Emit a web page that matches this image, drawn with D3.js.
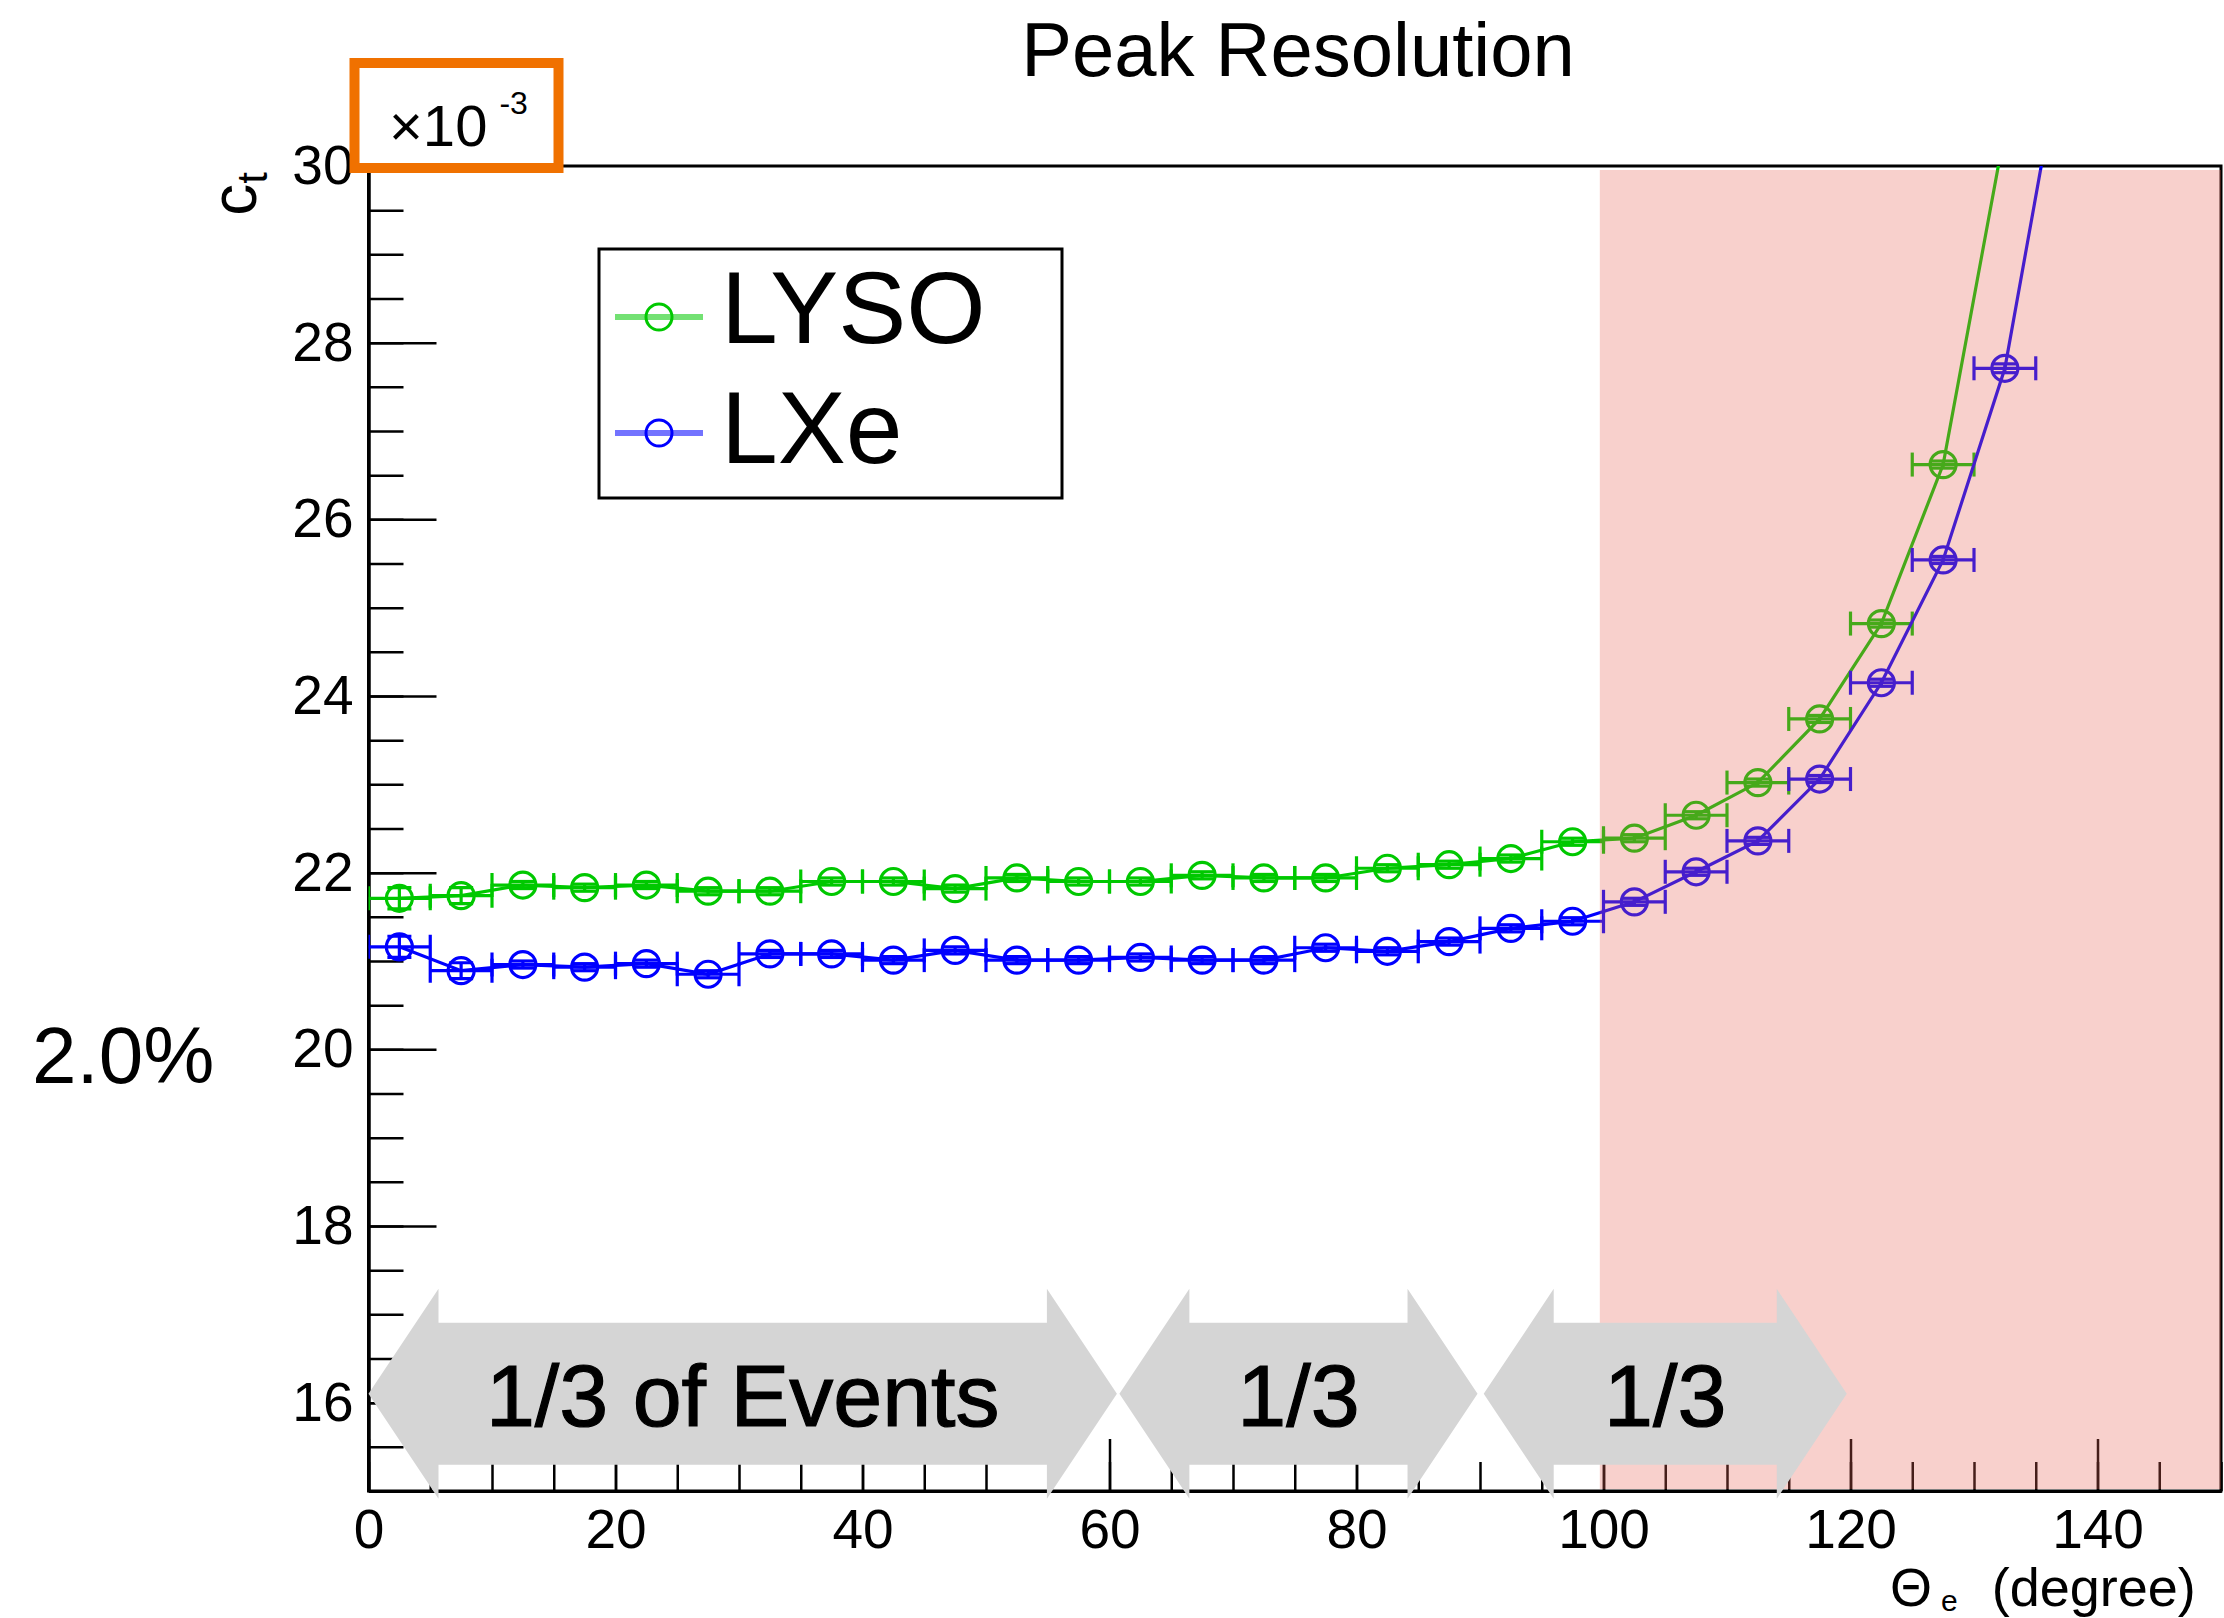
<!DOCTYPE html>
<html>
<head>
<meta charset="utf-8" />
<title>Peak Resolution</title>
<script src="https://cdn.jsdelivr.net/npm/d3@7"></script>
<style>
  body { margin: 0; padding: 0; background: #fff; }
  svg { display: block; font-family: "Liberation Sans", Arial, Helvetica, sans-serif; }
  .axis .domain { stroke: #000; stroke-width: 3; }
  .axis line { stroke: #000; stroke-width: 2.5; }
  .axis text { font-size: 55px; fill: #000; font-family: "Liberation Sans", Arial, sans-serif; }
</style>
</head>
<body>
<div id="chart"></div>
<script>
// theta_e bin centres (degree), each bin is 5 deg wide
var angles = [2.5, 7.5, 12.5, 17.5, 22.5, 27.5, 32.5, 37.5, 42.5, 47.5, 52.5, 57.5, 62.5, 67.5,
              72.5, 77.5, 82.5, 87.5, 92.5, 97.5, 102.5, 107.5, 112.5, 117.5, 122.5, 127.5, 132.5, 137.5];
var binHalf = 2.5;

// c_t peak resolution, units of 10^-3
var lyso    = [21.71, 21.74, 21.86, 21.83, 21.86, 21.79, 21.79, 21.90, 21.90, 21.82, 21.94, 21.90, 21.90, 21.97,
               21.94, 21.94, 22.05, 22.09, 22.16, 22.35, 22.39, 22.65, 23.02, 23.74, 24.82, 26.62, 30.40];
var lysoErr = [0.12, 0.09, 0.04, 0.04, 0.04, 0.04, 0.04, 0.04, 0.04, 0.04, 0.04, 0.04, 0.04, 0.04,
               0.04, 0.04, 0.04, 0.04, 0.04, 0.04, 0.04, 0.04, 0.04, 0.04, 0.04, 0.04, 0.05];
var lxe     = [21.16, 20.89, 20.96, 20.93, 20.97, 20.85, 21.08, 21.08, 21.01, 21.12, 21.01, 21.01, 21.04, 21.01,
               21.01, 21.15, 21.11, 21.22, 21.37, 21.45, 21.67, 22.01, 22.36, 23.06, 24.15, 25.54, 27.71, 31.60];
var lxeErr  = [0.12, 0.09, 0.04, 0.04, 0.04, 0.04, 0.04, 0.04, 0.04, 0.04, 0.04, 0.04, 0.04, 0.04,
               0.04, 0.04, 0.04, 0.04, 0.04, 0.04, 0.04, 0.04, 0.04, 0.04, 0.04, 0.04, 0.05, 0.05];

var seriesNames  = ["LYSO", "LXe"];
var seriesColors = ["#00c800", "#0000ff"];

var xTicks = [0, 20, 40, 60, 80, 100, 120, 140];
var yTicks = [16, 18, 20, 22, 24, 26, 28, 30];

// annotation overlays
var arrowSpans  = [[0, 60.6], [60.8, 89.8], [90.3, 119.7]];
var arrowLabels = ["1/3 of Events", "1/3", "1/3"];
var arrowLevel  = 16.1;
var shadeSpan   = [99.7, 150];

var W = 2224, H = 1618;
var pL = 368.5, pR = 2221, pT = 166, pB = 1491;

var x = d3.scaleLinear().domain([0, 150]).range([pL, pR]);
var y = d3.scaleLinear().domain([15, 30]).range([pB, pT]);

var svg = d3.select("#chart").append("svg").attr("width", W).attr("height", H);
svg.append("rect").attr("width", W).attr("height", H).attr("fill", "#fff");

svg.append("defs").append("clipPath").attr("id", "frameClip")
  .append("rect").attr("x", pL).attr("y", pT).attr("width", pR - pL).attr("height", pB - pT);

// title
svg.append("text").attr("x", 1298).attr("y", 76).attr("text-anchor", "middle")
  .attr("font-size", 76).text("Peak Resolution");

// axes: minor then major ticks (ROOT style, ticks inside)
svg.append("g").attr("class", "axis").attr("transform", "translate(0," + pB + ")")
  .call(d3.axisBottom(x).tickValues(d3.range(0, 151, 5)).tickSize(-29).tickSizeOuter(0).tickFormat(""));
svg.append("g").attr("class", "axis").attr("transform", "translate(0," + pB + ")")
  .call(d3.axisBottom(x).tickValues(xTicks).tickSize(-52).tickSizeOuter(0).tickPadding(18));
svg.append("g").attr("class", "axis").attr("transform", "translate(" + pL + ",0)")
  .call(d3.axisLeft(y).tickValues(d3.range(15, 30.01, 0.5)).tickSize(-35).tickSizeOuter(0).tickFormat(""));
svg.append("g").attr("class", "axis").attr("transform", "translate(" + pL + ",0)")
  .call(d3.axisLeft(y).tickValues(yTicks).tickSize(-68).tickSizeOuter(0).tickPadding(15));

// frame
svg.append("rect").attr("x", pL).attr("y", pT).attr("width", pR - pL).attr("height", pB - pT)
  .attr("fill", "none").attr("stroke", "#000").attr("stroke-width", 3);

// axis titles
var yt = svg.append("text").attr("transform", "translate(256,172) rotate(-90)")
  .attr("text-anchor", "end").attr("font-size", 64);
yt.append("tspan").text("c");
yt.append("tspan").attr("dy", 11).attr("font-size", 42).text("t");

var xt = svg.append("text").attr("x", 1890).attr("y", 1606).attr("font-size", 54);
xt.append("tspan").text("\u0398");
xt.append("tspan").attr("dx", 9).attr("dy", 5).attr("font-size", 30).text("e");
xt.append("tspan").attr("dx", 34).attr("dy", -5).text("(degree)");

// data series
var allSeries = [lyso, lxe];
var allErrs = [lysoErr, lxeErr];
var cap = 12;

allSeries.forEach(function(vals, s) {
  var col = seriesColors[s];
  var pts = vals.map(function(v, i) { return { a: angles[i], v: v, e: allErrs[s][i] }; });
  var g = svg.append("g").attr("clip-path", "url(#frameClip)")
    .attr("stroke", col).attr("fill", "none").attr("stroke-width", 3.2);

  g.append("path").datum(pts)
    .attr("d", d3.line().x(function(d) { return x(d.a); }).y(function(d) { return y(d.v); }));

  var eb = g.selectAll(".eb").data(pts).enter().append("g");
  // horizontal (bin width) error bar with end caps
  eb.append("line").attr("x1", function(d) { return x(d.a - binHalf); }).attr("x2", function(d) { return x(d.a + binHalf); })
    .attr("y1", function(d) { return y(d.v); }).attr("y2", function(d) { return y(d.v); });
  eb.append("line").attr("x1", function(d) { return x(d.a - binHalf); }).attr("x2", function(d) { return x(d.a - binHalf); })
    .attr("y1", function(d) { return y(d.v) - cap; }).attr("y2", function(d) { return y(d.v) + cap; });
  eb.append("line").attr("x1", function(d) { return x(d.a + binHalf); }).attr("x2", function(d) { return x(d.a + binHalf); })
    .attr("y1", function(d) { return y(d.v) - cap; }).attr("y2", function(d) { return y(d.v) + cap; });
  // vertical error bar with caps
  eb.append("line").attr("x1", function(d) { return x(d.a); }).attr("x2", function(d) { return x(d.a); })
    .attr("y1", function(d) { return y(d.v - d.e); }).attr("y2", function(d) { return y(d.v + d.e); });
  eb.append("line").attr("x1", function(d) { return x(d.a) - cap; }).attr("x2", function(d) { return x(d.a) + cap; })
    .attr("y1", function(d) { return y(d.v - d.e); }).attr("y2", function(d) { return y(d.v - d.e); });
  eb.append("line").attr("x1", function(d) { return x(d.a) - cap; }).attr("x2", function(d) { return x(d.a) + cap; })
    .attr("y1", function(d) { return y(d.v + d.e); }).attr("y2", function(d) { return y(d.v + d.e); });

  g.selectAll("circle").data(pts).enter().append("circle")
    .attr("cx", function(d) { return x(d.a); }).attr("cy", function(d) { return y(d.v); }).attr("r", 13);
});

// legend
svg.append("rect").attr("x", 599).attr("y", 249).attr("width", 463).attr("height", 249)
  .attr("fill", "#fff").attr("stroke", "#000").attr("stroke-width", 3);
seriesNames.forEach(function(name, i) {
  var ly = 317 + i * 116;
  svg.append("line").attr("x1", 615).attr("x2", 703).attr("y1", ly).attr("y2", ly)
    .attr("stroke", seriesColors[i]).attr("stroke-opacity", 0.55).attr("stroke-width", 6);
  svg.append("circle").attr("cx", 659).attr("cy", ly).attr("r", 13)
    .attr("fill", "none").attr("stroke", seriesColors[i]).attr("stroke-width", 3);
  svg.append("text").attr("x", 721).attr("y", ly + 26 + (i ? 4 : 0)).attr("font-size", 102).text(name);
});

// shaded region (semi-transparent, over the data)
svg.append("rect").attr("x", x(shadeSpan[0])).attr("y", pT + 4)
  .attr("width", x(shadeSpan[1]) - x(shadeSpan[0])).attr("height", pB - pT - 6)
  .attr("fill", "rgb(232,98,85)").attr("fill-opacity", 0.3);

// double arrows along the bottom
var yc = y(arrowLevel), head = 70, body = 71, barb = 105;
arrowSpans.forEach(function(sp, i) {
  var x0 = x(sp[0]), x1 = x(sp[1]);
  var p = [[x0, yc], [x0 + head, yc - barb], [x0 + head, yc - body], [x1 - head, yc - body], [x1 - head, yc - barb],
           [x1, yc], [x1 - head, yc + barb], [x1 - head, yc + body], [x0 + head, yc + body], [x0 + head, yc + barb]];
  svg.append("path").attr("d", "M" + p.join("L") + "Z").attr("fill", "#d5d5d5");
  svg.append("text").attr("x", (x0 + x1) / 2).attr("y", yc + 32).attr("text-anchor", "middle")
    .attr("font-size", 88).attr("fill", "#000").attr("stroke", "#000").attr("stroke-width", 1.2)
    .text(arrowLabels[i]);
});

// 2.0% marker next to the 20 tick
svg.append("text").attr("x", 32).attr("y", 1083).attr("font-size", 80).text("2.0%");

// orange box around the exponent
svg.append("rect").attr("x", 354.5).attr("y", 63).attr("width", 204).attr("height", 105)
  .attr("fill", "#fff").attr("stroke", "#f07100").attr("stroke-width", 10);
var ex = svg.append("text").attr("x", 389).attr("y", 146).attr("font-size", 58);
ex.append("tspan").text("\u00d710");
ex.append("tspan").attr("dx", 12).attr("dy", -32).attr("font-size", 32).text("-3");
</script>
</body>
</html>
